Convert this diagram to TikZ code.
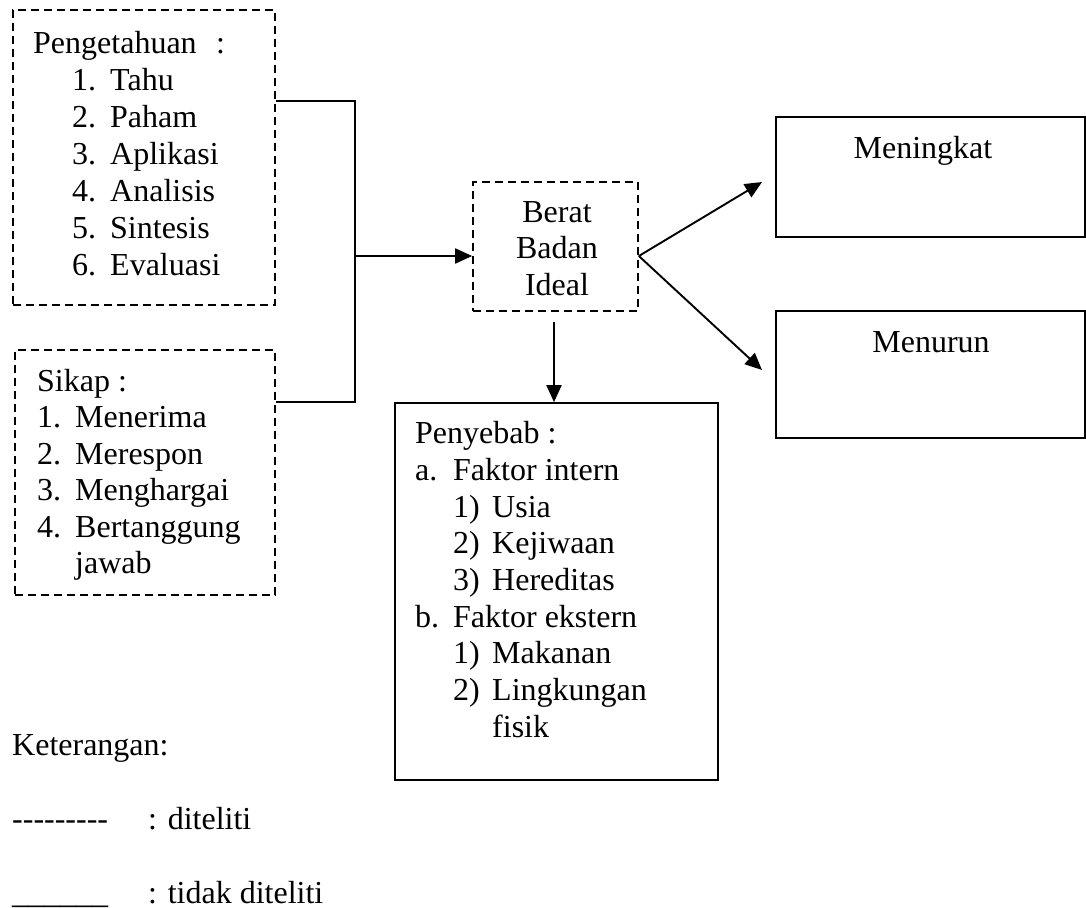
\documentclass[tikz,border=0pt]{standalone}
\usepackage{fontspec}
\setmainfont{Liberation Serif}
\usetikzlibrary{arrows.meta}
\begin{document}
\begin{tikzpicture}[x=1pt,y=-1pt,
  every node/.style={font=\fontsize{32}{37}\selectfont},
  box/.style={draw,line width=1.7pt,minimum width=#1,inner sep=0pt},
  dbox/.style={box=#1,dash pattern=on 8pt off 5pt},
  txt/.style={anchor=base west,inner sep=0pt},
  ctxt/.style={anchor=base,inner sep=0pt},
  conn/.style={line width=1.9pt},
  arr/.style={conn,-{Triangle[length=17pt,width=15pt]}}]
\useasboundingbox (0,0) rectangle (1086,908);
% boxes
\node[dbox=262pt,minimum height=295pt] (peng) at (144,157.5) {};
\node[dbox=260pt,minimum height=245pt] (sikap) at (145,472.5) {};
\node[dbox=165pt,minimum height=129pt] (berat) at (555.5,246.5) {};
\node[box=323pt,minimum height=377pt] (peny) at (556.5,591.5) {};
\node[box=309pt,minimum height=120pt] (ning) at (930.5,177) {};
\node[box=309pt,minimum height=127pt] (turun) at (930.5,374.5) {};
% Pengetahuan text
\node[txt] (p0) at (33,53) {Pengetahuan};
\node[txt] (p0c) at (216,53) {:};
\node[txt] (p1n) at (72,90) {1.}; \node[txt] (p1) at (110,90) {Tahu};
\node[txt] (p2n) at (72,127) {2.}; \node[txt] (p2) at (110,127) {Paham};
\node[txt] (p3n) at (72,164) {3.}; \node[txt] (p3) at (110,164) {Aplikasi};
\node[txt] (p4n) at (72,201) {4.}; \node[txt] (p4) at (110,201) {Analisis};
\node[txt] (p5n) at (72,238) {5.}; \node[txt] (p5) at (110,238) {Sintesis};
\node[txt] (p6n) at (72,275) {6.}; \node[txt] (p6) at (110,275) {Evaluasi};
% Sikap text
\node[txt] (s0) at (37,391) {Sikap :};
\node[txt] (s1n) at (37,427.5) {1.}; \node[txt] (s1) at (75,427.5) {Menerima};
\node[txt] (s2n) at (37,464) {2.}; \node[txt] (s2) at (75,464) {Merespon};
\node[txt] (s3n) at (37,500.5) {3.}; \node[txt] (s3) at (75,500.5) {Menghargai};
\node[txt] (s4n) at (37,537) {4.}; \node[txt] (s4) at (75,537) {Bertanggung};
\node[txt] (s5) at (75,573.5) {jawab};
% Berat text
\node[ctxt] (b1) at (557,222) {Berat};
\node[ctxt] (b2) at (557,258.5) {Badan};
\node[ctxt] (b3) at (557,295) {Ideal};
% Penyebab text
\node[txt] (y0) at (415,443) {Penyebab :};
\node[txt] (ya) at (415,480) {a.}; \node[txt] (yat) at (453,480) {Faktor intern};
\node[txt] (y1n) at (453,517) {1)}; \node[txt] (y1) at (492,517) {Usia};
\node[txt] (y2n) at (453,553.5) {2)}; \node[txt] (y2) at (492,553.5) {Kejiwaan};
\node[txt] (y3n) at (453,590) {3)}; \node[txt] (y3) at (492,590) {Hereditas};
\node[txt] (yb) at (415,627) {b.}; \node[txt] (ybt) at (453,627) {Faktor ekstern};
\node[txt] (y4n) at (453,663.5) {1)}; \node[txt] (y4) at (492,663.5) {Makanan};
\node[txt] (y5n) at (453,700) {2)}; \node[txt] (y5) at (492,700) {Lingkungan};
\node[txt] (y6) at (492,737) {fisik};
% right texts
\node[ctxt] (tn) at (923,158) {Meningkat};
\node[ctxt] (tt) at (931,352) {Menurun};
% legend
\node[txt] (k0) at (12,755) {Keterangan:};
\node[txt] (k1) at (12,829) {\mbox{-}\mbox{-}\mbox{-}\mbox{-}\mbox{-}\mbox{-}\mbox{-}\mbox{-}\mbox{-}};
\node[txt] (k1t) at (148,829) {: diteliti};
\node[txt] (k2) at (12,903) {\_\_\_\_\_\_};
\node[txt] (k2t) at (148,903) {: tidak diteliti};
% connectors
\coordinate (j1) at (355,101);
\coordinate (j2) at (355,402);
\coordinate (jm) at (355,256);
\coordinate (tipA) at (762,182);
\coordinate (tipB) at (762,370);
\coordinate (dstart) at (554,322);
\draw[conn] (peng.east |- j1) -- (j1) -- (j2) -- (sikap.east |- j2);
\draw[arr] (jm) -- (berat.west |- jm);
\draw[arr] (berat.east |- jm) -- (tipA);
\draw[arr] (berat.east |- jm) -- (tipB);
\draw[arr] (dstart) -- (dstart |- peny.north);
\end{tikzpicture}
\end{document}
